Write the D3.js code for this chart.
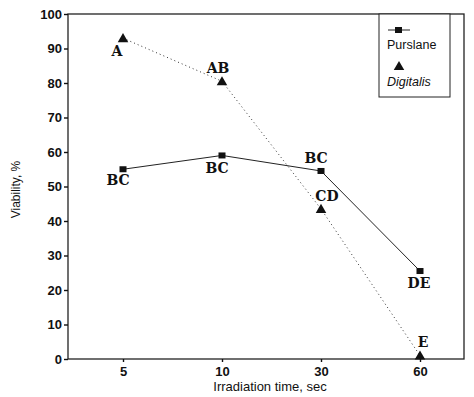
<!DOCTYPE html>
<html>
<head>
<meta charset="utf-8" />
<script src="https://d3js.org/d3.v7.min.js"></script>
<style>
body { margin: 0; background: #fff; }
.axis text { font-family: Arial, "Liberation Sans", sans-serif; font-weight: bold; font-size: 13px; fill: #111; }
.axis path, .axis line { stroke: #111; stroke-width: 1.4px; }
.letter { font-family: "DejaVu Serif", "Liberation Serif", serif; font-weight: bold; font-size: 14px; fill: #111; }
</style>
</head>
<body>
<svg id="chart" width="474" height="397"></svg>
<script>
// irradiation times (categories)
var times = ["5", "10", "30", "60"];
var purslane = [55, 59, 54.5, 25.5];
var digitalis = [93, 80.5, 43.5, 1];
var purslaneLetters = ["BC", "BC", "BC", "DE"];
var digitalisLetters = ["A", "AB", "CD", "E"];
var yTicks = [0, 10, 20, 30, 40, 50, 60, 70, 80, 90, 100];

var plotLeft = 68, plotRight = 464, plotTop = 14, plotBottom = 359;

var svg = d3.select("#chart");

var x = d3.scalePoint().domain(times).range([123, 420]);
var y = d3.scaleLinear().domain([0, 100]).range([plotBottom, plotTop]);

// frame
svg.append("rect")
    .attr("x", plotLeft).attr("y", plotTop)
    .attr("width", plotRight - plotLeft).attr("height", plotBottom - plotTop)
    .style("fill", "none").style("stroke", "#222").style("stroke-width", 1.3);

svg.append("g")
    .attr("class", "axis")
    .attr("transform", "translate(" + plotLeft + ",0)")
    .call(d3.axisLeft(y).tickValues(yTicks).tickSize(4).tickPadding(2));

svg.append("g")
    .attr("class", "axis")
    .attr("transform", "translate(0," + plotBottom + ")")
    .call(d3.axisBottom(x).tickSize(3).tickPadding(5));

svg.selectAll(".axis .domain").remove();

// axis titles
svg.append("text")
    .attr("transform", "translate(20," + ((plotTop + plotBottom) / 2 + 3) + ") rotate(-90)")
    .attr("text-anchor", "middle")
    .style("font-family", "Arial, sans-serif").style("font-size", "12px").style("fill", "#111")
    .text("Viability, %");

svg.append("text")
    .attr("x", 270).attr("y", 391)
    .attr("text-anchor", "middle")
    .style("font-family", "Arial, sans-serif").style("font-size", "13px").style("fill", "#111")
    .text("Irradiation time, sec");

var line = function(vals) {
    return d3.line()
        .x(function(d, i) { return x(times[i]); })
        .y(function(d) { return y(d); })(vals);
};

// digitalis dotted
svg.append("path")
    .attr("d", line(digitalis))
    .style("fill", "none").style("stroke", "#333").style("stroke-width", 1)
    .style("stroke-dasharray", "1,3");

// purslane solid
svg.append("path")
    .attr("d", line(purslane))
    .style("fill", "none").style("stroke", "#222").style("stroke-width", 1);

svg.selectAll(".sq")
    .data(purslane)
    .enter().append("rect")
    .attr("x", function(d, i) { return x(times[i]) - 3.5; })
    .attr("y", function(d) { return y(d) - 3; })
    .attr("width", 7).attr("height", 6)
    .style("fill", "#111");

var tri = d3.symbol().type(d3.symbolTriangle).size(48);
svg.selectAll(".tri")
    .data(digitalis)
    .enter().append("path")
    .attr("d", tri)
    .attr("transform", function(d, i) { return "translate(" + x(times[i]) + "," + (y(d) + 1) + ")"; })
    .style("fill", "#111");

// significance letters
var pDx = [-5, -5, -5, -1], pDy = [16, 18, -8, 17];
svg.selectAll(".pl")
    .data(purslane)
    .enter().append("text")
    .attr("class", "letter")
    .attr("text-anchor", "middle")
    .attr("x", function(d, i) { return x(times[i]) + pDx[i]; })
    .attr("y", function(d, i) { return y(d) + pDy[i]; })
    .text(function(d, i) { return purslaneLetters[i]; });

var dDx = [-6, -4, 6, 3], dDy = [18, -8, -8, -9];
svg.selectAll(".dl")
    .data(digitalis)
    .enter().append("text")
    .attr("class", "letter")
    .attr("text-anchor", "middle")
    .attr("x", function(d, i) { return x(times[i]) + dDx[i]; })
    .attr("y", function(d, i) { return y(d) + dDy[i]; })
    .text(function(d, i) { return digitalisLetters[i]; });

// legend
var lg = svg.append("g").attr("transform", "translate(379,14)");
lg.append("rect")
    .attr("width", 71).attr("height", 83)
    .style("fill", "#fff").style("stroke", "#222").style("stroke-width", 1);
lg.append("line")
    .attr("x1", 9).attr("x2", 31).attr("y1", 16).attr("y2", 16)
    .style("stroke", "#222");
lg.append("rect")
    .attr("x", 16).attr("y", 13).attr("width", 7).attr("height", 6)
    .style("fill", "#111");
lg.append("text")
    .attr("x", 8).attr("y", 35)
    .style("font-family", "Arial, sans-serif").style("font-size", "12.5px").style("fill", "#111")
    .text("Purslane");
lg.append("path")
    .attr("d", tri)
    .attr("transform", "translate(20,53)")
    .style("fill", "#111");
lg.append("text")
    .attr("x", 8).attr("y", 72)
    .style("font-family", "Arial, sans-serif").style("font-size", "12.5px").style("font-style", "italic").style("fill", "#111")
    .text("Digitalis");
</script>
</body>
</html>
